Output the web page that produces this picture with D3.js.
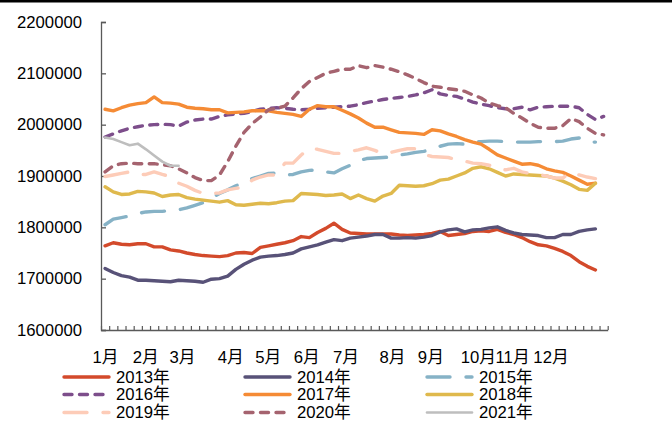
<!DOCTYPE html>
<html><head><meta charset="utf-8">
<script src="https://cdn.jsdelivr.net/npm/d3@7"></script>
<style>
html,body{margin:0;padding:0;background:#fff;}
svg{display:block;}
text{font-family:"Liberation Sans","Noto Sans CJK SC",Arial,sans-serif;fill:#000;}
</style></head>
<body><svg id="c" width="672" height="422"></svg>
<script>
// values in thousands
const years = ["2013年","2014年","2015年","2016年","2017年","2018年","2019年","2020年","2021年"];
const s2013 = [1764,1770,1767,1766,1768,1768,1762,1762,1756,1754,1750,1747,1745,1744,1743,1745,1750,1751,1749,1761,1764,1767,1770,1774,1782,1780,1790,1798,1808,1796,1789,1788,1787,1787,1787,1787,1785,1784,1785,1786,1788,1792,1784,1786,1788,1792,1793,1792,1796,1790,1786,1780,1772,1766,1764,1759,1753,1745,1733,1724,1717];
const s2014 = [1720,1712,1706,1703,1697,1697,1696,1695,1694,1697,1696,1695,1693,1699,1700,1705,1718,1728,1736,1742,1744,1745,1747,1750,1758,1762,1766,1771,1776,1774,1779,1781,1783,1786,1786,1779,1779,1780,1779,1781,1784,1791,1795,1797,1791,1795,1796,1799,1801,1794,1789,1786,1785,1784,1780,1780,1786,1786,1792,1795,1797];
const s2015 = [1805,1816,1819,1822,1827,1830,1831,1831,1833,1834,1838,1843,1848,1857,1866,1873,1881,1887,1895,1900,1905,1906,1902,1903,1908,1911,1912,1908,1906,1914,1921,1930,1934,1935,1936,1937,1941,1943,1946,1948,1952,1958,1962,1963,1962,1966,1967,1968,1968,1967,1966,1966,1966,1967,1967,1967,1968,1972,1974,1966,1966];
const s2016 = [1976,1982,1988,1993,1996,1999,2000,2001,2000,1997,2005,2009,2011,2011,2016,2019,2021,2022,2026,2030,2032,2033,2032,2030,2029,2030,2032,2033,2034,2035,2036,2039,2043,2046,2049,2051,2053,2055,2058,2062,2068,2060,2057,2055,2050,2044,2040,2037,2033,2031,2031,2034,2029,2034,2035,2036,2036,2036,2033,2020,2010,2016];
const s2017 = [2030,2027,2033,2038,2041,2043,2054,2043,2042,2040,2034,2032,2031,2029,2029,2023,2024,2025,2027,2027,2027,2024,2022,2020,2016,2030,2037,2035,2035,2028,2021,2013,2003,1995,1995,1990,1985,1984,1983,1981,1990,1988,1982,1977,1971,1966,1962,1952,1941,1935,1929,1923,1924,1921,1914,1910,1907,1900,1892,1884,1886];
const s2018 = [1879,1869,1864,1865,1870,1869,1867,1860,1863,1864,1858,1855,1853,1851,1849,1852,1844,1843,1845,1847,1846,1848,1851,1852,1866,1865,1864,1862,1863,1865,1856,1863,1856,1851,1861,1866,1882,1881,1880,1881,1885,1892,1894,1900,1906,1915,1918,1914,1907,1900,1904,1903,1902,1901,1900,1896,1890,1883,1874,1872,1886];
const s2019 = [1899,1902,1905,1908,1903,1903,1908,1903,1899,1886,1880,1872,1866,1866,1867,1873,1876,1878,1892,1898,1902,1902,1925,1925,1941,1954,1952,1948,1944,1944,1948,1951,1955,1950,1943,1946,1950,1953,1953,1942,1938,1937,1936,1932,1929,1925,1924,1921,1915,1912,1915,1908,1905,1903,1900,1896,1896,1908,1902,1898,1895];
const s2020 = [1908,1920,1924,1925,1924,1924,1924,1922,1920,1914,1906,1897,1891,1891,1902,1928,1958,1985,2002,2015,2029,2032,2036,2052,2070,2084,2092,2100,2104,2108,2108,2115,2111,2115,2112,2108,2103,2097,2090,2082,2075,2073,2070,2068,2065,2058,2052,2042,2037,2033,2022,2013,2003,1995,1993,1993,1998,2012,2006,1993,1983,1980];
const s2021 = [1975,1972,1966,1960,1963,1952,1940,1928,1920,1920];
const seriesValues = [s2013,s2014,s2015,s2016,s2017,s2018,s2019,s2020,s2021];
const categoryCount = 62;
const monthLabels = ["1月","2月","3月","4月","5月","6月","7月","8月","9月","10月","11月","12月"];
const monthCategory = [0,4.9,9.4,15.3,19.9,24.6,29.4,35.1,39.8,45.6,49.8,54.5];
const yTicks = [1600000,1700000,1800000,1900000,2000000,2100000,2200000];

const colors = ["#D34A2B","#585278","#86B2C6","#7D4E8B","#F58B35","#DFB94D","#FDCCB8","#A5636F","#BEBEBE"];
const dashes = [null,null,"23,16","8,7.5",null,null,"23,16","8,7.5",null];
const widths = [3.4,3.4,3.4,3.4,3.4,3.4,3.4,3.4,2.6];

const svg = d3.select("#c");
svg.append("rect").attr("x",0).attr("y",0).attr("width",672).attr("height",2.5).attr("fill","#000");

const x = d3.scaleLinear().domain([-0.5, categoryCount-0.5]).range([101, 607.7]);
const y = d3.scaleLinear().domain([1600000, 2200000]).range([330, 22]);

const axisColor = "#595959";
// y axis
const ya = svg.append("g").attr("transform","translate(101,0)")
  .call(d3.axisRight(y).tickValues(yTicks).tickSize(5).tickFormat(""));
ya.select(".domain").attr("stroke",axisColor).attr("stroke-width",1.3);
ya.selectAll(".tick line").attr("stroke",axisColor).attr("stroke-width",1.3);
svg.append("g").selectAll("text").data(yTicks).join("text")
  .attr("x",82).attr("y",d=>y(d)).attr("text-anchor","end").attr("dominant-baseline","central")
  .attr("font-size","16.7px").text(d=>d3.format("d")(d));

// x axis
const boundaries = d3.range(categoryCount+1).map(i=>i-0.5);
const xa = svg.append("g").attr("transform","translate(0,330)")
  .call(d3.axisTop(x).tickValues(boundaries).tickSize(4).tickSizeOuter(0).tickFormat(""));
xa.select(".domain").attr("stroke",axisColor).attr("stroke-width",1.3);
xa.selectAll(".tick line").attr("stroke",axisColor).attr("stroke-width",1.2);
svg.append("g").selectAll("text").data(monthLabels).join("text")
  .attr("x",(d,i)=>x(monthCategory[i])+0.5).attr("y",357).attr("text-anchor","middle")
  .attr("dominant-baseline","central").attr("font-size","16.7px").text(d=>d);

// lines
const line = d3.line().x((d,i)=>x(i)).y(d=>y(d*1000)).curve(d3.curveLinear);
const g = svg.append("g");
seriesValues.forEach((vals,k)=>{
  g.append("path").datum(vals).attr("d",line).attr("fill","none")
   .attr("stroke",colors[k]).attr("stroke-width",widths[k])
   .attr("stroke-linejoin","round").attr("stroke-linecap","round")
   .attr("stroke-dasharray",dashes[k]);
});

// legend
const legX = [62, 243, 425];
const legY = [377, 394.5, 412.5];
const lg = svg.append("g");
years.forEach((name,k)=>{
  const cx = legX[k%3], cy = legY[Math.floor(k/3)];
  lg.append("line").attr("x1",cx+2).attr("x2",cx+47).attr("y1",cy).attr("y2",cy)
    .attr("stroke",colors[k]).attr("stroke-width",widths[k])
    .attr("stroke-linecap","round").attr("stroke-dasharray",dashes[k]);
  lg.append("text").attr("x",cx+54).attr("y",cy).attr("dominant-baseline","central")
    .attr("font-size","16.7px").text(name);
});
</script></body></html>
